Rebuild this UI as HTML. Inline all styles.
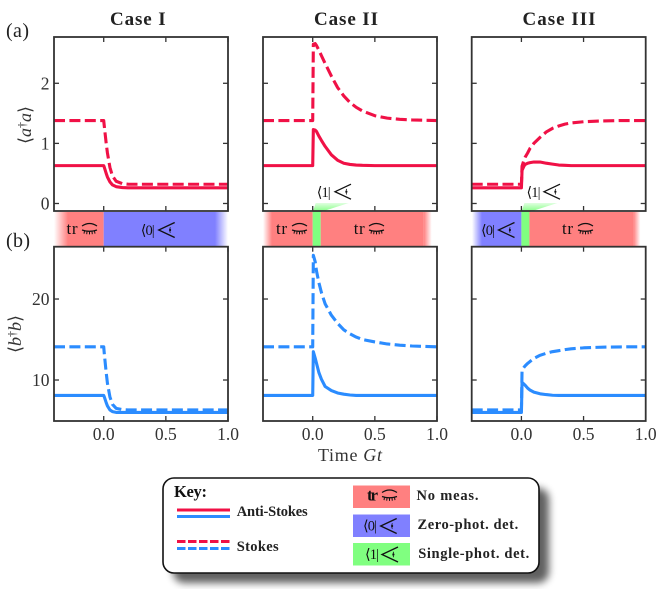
<!DOCTYPE html>
<html>
<head>
<meta charset="utf-8">
<style>
html,body{margin:0;padding:0;background:#fff;}
#stage{position:relative;width:665px;height:589px;overflow:hidden;}
svg{display:block;}
text{font-family:"Liberation Serif","DejaVu Serif",serif;}
</style>
</head>
<body>
<div id="stage">
<svg id="fig" width="665" height="589" viewBox="0 0 665 589" xmlns="http://www.w3.org/2000/svg">
<defs>
<linearGradient id="fadeRedL"><stop offset="0" stop-color="#ff8080" stop-opacity="0"/><stop offset="1" stop-color="#ff8080"/></linearGradient>
<linearGradient id="fadeRedR"><stop offset="0" stop-color="#ff8080"/><stop offset="1" stop-color="#ff8080" stop-opacity="0"/></linearGradient>
<linearGradient id="fadeBlueL"><stop offset="0" stop-color="#8080ff" stop-opacity="0"/><stop offset="1" stop-color="#8080ff"/></linearGradient>
<linearGradient id="fadeBlueR"><stop offset="0" stop-color="#8080ff"/><stop offset="1" stop-color="#8080ff" stop-opacity="0"/></linearGradient>
<linearGradient id="fadeGreenUp" x1="0" y1="1" x2="0" y2="0"><stop offset="0" stop-color="#80ff80"/><stop offset="1" stop-color="#80ff80" stop-opacity="0.25"/></linearGradient>
<filter id="legendBlur" x="-10%" y="-30%" width="120%" height="160%"><feGaussianBlur stdDeviation="4"/></filter>
<g id="closedEye"><path d="M-7.5,-3 Q0,-8 7.5,-3" fill="none" stroke="#111" stroke-width="1.2"/><path d="M-7.5,1 Q0,3.6 7.5,1" fill="none" stroke="#111" stroke-width="1.3"/><path d="M-5,2 L-5.5,4.6 M-2.5,2.6 L-2.8,5.2 M0,2.8 L0,5.4 M2.5,2.6 L2.8,5.2 M5,2 L5.5,4.6" fill="none" stroke="#111" stroke-width="1"/></g>
<g id="openEye"><path d="M8,-7.5 L-8,0 L8,7.5" fill="none" stroke="#111" stroke-width="1.3"/><path d="M3.6,-2.8 Q2.6,0 3.6,2.8" fill="none" stroke="#111" stroke-width="0.8"/><circle cx="3.4" cy="0" r="1.1" fill="#111"/></g>
</defs>
<g id="strips"></g>
<g id="plots"></g>
<g id="labels"></g>
<g id="legend"></g>
</svg>
</div>
<script>
const times = [-0.4, 0, 0.005, 0.02, 0.03, 0.05, 0.07, 0.1, 0.15, 0.2, 0.25, 0.3, 0.35, 0.4, 0.5, 0.6, 0.7, 0.8, 0.9, 1.0];
const case1PhotonAntiStokes = [0.63,0.63,0.60,0.50,0.44,0.36,0.31,0.28,0.265,0.26,0.26,0.26,0.26,0.26,0.26,0.26,0.26,0.26,0.26,0.26];
const case1PhotonStokes = [1.38,1.38,1.28,1.0,0.84,0.6,0.46,0.37,0.33,0.32,0.32,0.32,0.32,0.32,0.32,0.32,0.32,0.32,0.32,0.32];
const case2PhotonAntiStokes = [0.63,0.63,1.23,1.22,1.2,1.12,1.05,0.95,0.81,0.72,0.67,0.65,0.64,0.635,0.63,0.63,0.63,0.63,0.63,0.63];
const case2PhotonStokes = [1.38,1.38,2.65,2.66,2.63,2.55,2.46,2.33,2.12,1.93,1.79,1.68,1.6,1.54,1.46,1.42,1.40,1.39,1.385,1.38];
const case3PhotonAntiStokes = [0.26,0.26,0.55,0.62,0.65,0.67,0.68,0.69,0.69,0.67,0.655,0.64,0.635,0.63,0.63,0.63,0.63,0.63,0.63,0.63];
const case3PhotonStokes = [0.32,0.32,0.62,0.72,0.77,0.84,0.92,1.0,1.1,1.19,1.25,1.29,1.32,1.34,1.36,1.37,1.375,1.38,1.38,1.38];
const case1PhononAntiStokes = [8.1,8.1,7.9,7.2,6.8,6.3,6.1,6.0,6.0,6.0,6.0,6.0,6.0,6.0,6.0,6.0,6.0,6.0,6.0,6.0];
const case1PhononStokes = [14.1,14.1,13.2,10.9,9.6,7.9,7.0,6.5,6.35,6.3,6.3,6.3,6.3,6.3,6.3,6.3,6.3,6.3,6.3,6.3];
const case2PhononAntiStokes = [8.1,8.1,13.5,12.7,12.1,10.9,10.1,9.2,8.7,8.4,8.25,8.15,8.1,8.1,8.1,8.1,8.1,8.1,8.1,8.1];
const case2PhononStokes = [14.1,14.1,25.4,24.6,23.5,22,20.8,19.4,18.0,17,16.2,15.7,15.3,15.0,14.7,14.45,14.3,14.2,14.15,14.1];
const case3PhononAntiStokes = [6,6,9.7,9.5,9.35,9.0,8.75,8.5,8.3,8.2,8.12,8.1,8.1,8.1,8.1,8.1,8.1,8.1,8.1,8.1];
const case3PhononStokes = [6.3,6.3,11.2,11.55,11.75,12.05,12.3,12.65,13.05,13.3,13.5,13.62,13.75,13.85,13.97,14.03,14.07,14.09,14.1,14.1];
const xTicks = [0, 0.5, 1];
const xTickLabels = ["0.0", "0.5", "1.0"];
const photonTicks = [0, 1, 2];
const photonTickLabels = ["0", "1", "2"];
const phononTicks = [10, 20];
const phononTickLabels = ["10", "20"];
const caseTitles = ["Case I", "Case II", "Case III"];

const NS = "http://www.w3.org/2000/svg";
const RED = "#f01146";
const BLUE = "#2b8cff";
const INK = "#333333";
const columnLeft = [54, 263, 471.7];
const columnWidth = 174;
const titleCenter = [137.8, 346, 559];
const titleWidth = [55.7, 64, 73];
const photonRow = {top: 37, bottom: 211, min: -0.125, max: 2.77};
const phononRow = {top: 246.7, bottom: 421, min: 4.94, max: 26.46};

function xScale(col, t) { return columnLeft[col] + (t + 0.4) / 1.4 * columnWidth; }
function yScale(row, v) { return row.bottom - (v - row.min) / (row.max - row.min) * (row.bottom - row.top); }
function mk(tag, attrs, parent) {
  const el = document.createElementNS(NS, tag);
  for (const k in attrs) el.setAttribute(k, attrs[k]);
  parent.appendChild(el);
  return el;
}
function addText(parent, str, x, y, size, anchor, weight, fill) {
  const el = mk("text", {x: x, y: y, "font-size": size, "text-anchor": anchor || "start", "font-weight": weight || "normal", fill: fill || INK}, parent);
  el.textContent = str;
  return el;
}
const plots = document.getElementById("plots");
const labels = document.getElementById("labels");
const strips = document.getElementById("strips");
const legend = document.getElementById("legend");

function drawSeries(col, row, rowName, values, color, dashed, clipId) {
  const pts = values.map(function (v, i) { return xScale(col, times[i]).toFixed(2) + "," + yScale(row, v).toFixed(2); }).join(" ");
  const line = mk("polyline", {points: pts, fill: "none", stroke: color, "stroke-width": 3.1, "stroke-linejoin": "round", "clip-path": "url(#" + clipId + ")"}, plots);
  if (dashed) line.setAttribute("stroke-dasharray", "11 4.4");
  
  
}
function drawPanel(col, row, rowName, antiStokes, stokes, color, yTicks, yTickLabels) {
  const left = columnLeft[col], right = left + columnWidth;
  const clipId = "clip" + col + rowName;
  const defs = mk("clipPath", {id: clipId}, plots);
  mk("rect", {x: left, y: row.top, width: columnWidth, height: row.bottom - row.top}, defs);
  drawSeries(col, row, rowName, antiStokes, color, false, clipId);
  drawSeries(col, row, rowName, stokes, color, true, clipId);
  const frame = mk("rect", {x: left, y: row.top, width: columnWidth, height: row.bottom - row.top, fill: "none", stroke: INK, "stroke-width": 1.8}, plots);
  
  
  xTicks.forEach(function (t, i) {
    const x = xScale(col, t);
    mk("line", {x1: x, x2: x, y1: row.top, y2: row.top + 5, stroke: INK, "stroke-width": 1.3}, plots);
    mk("line", {x1: x, x2: x, y1: row.bottom, y2: row.bottom - 5, stroke: INK, "stroke-width": 1.3}, plots);
    if (row === phononRow) {
      const tl = addText(labels, xTickLabels[i], x, 440, 17.5, "middle");
      
      
    }
  });
  yTicks.forEach(function (v, i) {
    const y = yScale(row, v);
    mk("line", {x1: left, x2: left + 5, y1: y, y2: y, stroke: INK, "stroke-width": 1.3}, plots);
    mk("line", {x1: right, x2: right - 5, y1: y, y2: y, stroke: INK, "stroke-width": 1.3}, plots);
    if (col === 0) {
      const tl = addText(labels, yTickLabels[i], left - 4.5, y + 6, 17.5, "end");
      
      
    }
  });
}
drawPanel(0, photonRow, "photon", case1PhotonAntiStokes, case1PhotonStokes, RED, photonTicks, photonTickLabels);
drawPanel(1, photonRow, "photon", case2PhotonAntiStokes, case2PhotonStokes, RED, photonTicks, photonTickLabels);
drawPanel(2, photonRow, "photon", case3PhotonAntiStokes, case3PhotonStokes, RED, photonTicks, photonTickLabels);
drawPanel(0, phononRow, "phonon", case1PhononAntiStokes, case1PhononStokes, BLUE, phononTicks, phononTickLabels);
drawPanel(1, phononRow, "phonon", case2PhononAntiStokes, case2PhononStokes, BLUE, phononTicks, phononTickLabels);
drawPanel(2, phononRow, "phonon", case3PhononAntiStokes, case3PhononStokes, BLUE, phononTicks, phononTickLabels);

caseTitles.forEach(function (title, i) {
  const el = addText(labels, title, titleCenter[i], 25, 19, "middle", "bold", "#222");
  el.setAttribute("textLength", titleWidth[i]);
  
  
});

/* measurement strip */
function stripRect(x, w, fill, name) {
  const r = mk("rect", {x: x, y: 212, width: w, height: 34, fill: fill}, strips);
  
  
}
function funnel(x0, name) {
  const p = mk("polygon", {points: x0 + ",212 " + (x0 + 3) + ",203 " + (x0 + 36) + ",203 " + (x0 + 8) + ",212", fill: "url(#fadeGreenUp)"}, strips);
  
  
}
stripRect(54, 14, "url(#fadeRedL)", "no-measurement-fade");
stripRect(68, 35.7, "#ff8080", "no-measurement-band");
stripRect(103.7, 111.3, "#8080ff", "zero-photon-band");
stripRect(215, 13, "url(#fadeBlueR)", "zero-photon-fade");

stripRect(263, 9, "url(#fadeRedL)", "no-measurement-fade");
stripRect(272, 40.7, "#ff8080", "no-measurement-band");
stripRect(312.7, 8, "#80ff80", "single-photon-band");
stripRect(320.7, 103, "#ff8080", "no-measurement-band");
stripRect(423.7, 8, "url(#fadeRedR)", "no-measurement-fade");
funnel(312.7, "single-photon-pointer");

stripRect(472, 10, "url(#fadeBlueL)", "zero-photon-fade");
stripRect(482, 39.4, "#8080ff", "zero-photon-band");
stripRect(521.4, 8, "#80ff80", "single-photon-band");
stripRect(529.4, 104, "#ff8080", "no-measurement-band");
stripRect(633.4, 7, "url(#fadeRedR)", "no-measurement-fade");
funnel(521.4, "single-photon-pointer");

function useIcon(parent, id, x, y) {
  const u = mk("use", {href: "#" + id, transform: "translate(" + x + "," + y + ")"}, parent);
  
  
}
function trLabel(parent, x, y, weight) {
  const t = addText(parent, "tr", x, y, 17, "start", weight || "normal", "#111");
  t.setAttribute("textLength", 11);
  
  
}
function braLabel(parent, str, x, y) {
  const t = addText(parent, str, x, y, 14.5, "start", "normal", "#111");
  t.setAttribute("textLength", 14);
  
  
}
trLabel(labels, 66.5, 234); useIcon(labels, "closedEye", 89.5, 229);
braLabel(labels, "\u27E80|", 140.7, 235); useIcon(labels, "openEye", 166.7, 230);
trLabel(labels, 276, 234); useIcon(labels, "closedEye", 299.5, 229);
trLabel(labels, 353.7, 234); useIcon(labels, "closedEye", 376.5, 229);
braLabel(labels, "\u27E81|", 316.7, 197); useIcon(labels, "openEye", 343, 191.7);
braLabel(labels, "\u27E80|", 481, 235); useIcon(labels, "openEye", 506.5, 230);
trLabel(labels, 562, 234); useIcon(labels, "closedEye", 585.5, 229);
braLabel(labels, "\u27E81|", 526.5, 197); useIcon(labels, "openEye", 552, 191.7);

/* axis and row labels */
const pa = addText(labels, "(a)", 6, 37, 20, "start", "normal", "#222");
pa.setAttribute("textLength", 23);


const pb = addText(labels, "(b)", 6, 247, 20, "start", "normal", "#222");
pb.setAttribute("textLength", 24);



function expectationLabel(letter, bx, cy, name) {
  const el = mk("text", {"font-size": 18, "text-anchor": "middle", fill: INK, transform: "translate(" + bx + "," + cy + ") rotate(-90)"}, labels);
  
  
  const open = mk("tspan", {}, el); open.textContent = "\u27E8";
  const l1 = mk("tspan", {"font-style": "italic"}, el); l1.textContent = letter;
  const dag = mk("tspan", {"font-size": 12, dy: -5}, el); dag.textContent = "\u2020";
  const l2 = mk("tspan", {"font-style": "italic", dy: 5}, el); l2.textContent = letter;
  const close = mk("tspan", {}, el); close.textContent = "\u27E9";
}
expectationLabel("a", 31, 125, "y-axis-title-photon");
expectationLabel("b", 21, 334, "y-axis-title-phonon");

const xl = addText(labels, "Time ", 318, 461, 18);
xl.setAttribute("textLength", 64);
const xlv = mk("tspan", {"font-style": "italic"}, xl);
xlv.textContent = "Gt";



/* legend */
const shadow = mk("rect", {x: 173, y: 488, width: 376, height: 95, rx: 11, fill: "#000", opacity: 0.62, filter: "url(#legendBlur)"}, legend);


const box = mk("rect", {x: 163, y: 478, width: 376, height: 95, rx: 11, fill: "#fff", stroke: "#111", "stroke-width": 1.6}, legend);


const keyTitle = addText(legend, "Key:", 174, 497, 16.5, "start", "bold", "#111");
keyTitle.setAttribute("textLength", 33);


function legendLine(y, color, dashed, name) {
  const l = mk("line", {x1: 177, x2: 230, y1: y, y2: y, stroke: color, "stroke-width": 3}, legend);
  if (dashed) l.setAttribute("stroke-dasharray", "8.5 2.5");
  
  
}
legendLine(510, RED, false, "legend-anti-stokes-red");
legendLine(516.5, BLUE, false, "legend-anti-stokes-blue");
legendLine(541.5, RED, true, "legend-stokes-red");
legendLine(548.5, BLUE, true, "legend-stokes-blue");
function legendLabel(str, x, y, w) {
  const t = addText(legend, str, x, y, 14.5, "start", "bold", "#222");
  t.setAttribute("textLength", w);
  
  
}
legendLabel("Anti-Stokes", 236.7, 516, 71);
legendLabel("Stokes", 236.7, 551, 42);
legendLabel("No meas.", 416.5, 500, 62);
legendLabel("Zero-phot. det.", 417.5, 529, 100.7);
legendLabel("Single-phot. det.", 418.2, 558, 111);
function swatch(y, fill, name) {
  const r = mk("rect", {x: 353, y: y, width: 57, height: 22.5, fill: fill}, legend);
  
  
}
swatch(485.5, "#ff8080", "legend-swatch-no-measurement");
swatch(514.5, "#8080ff", "legend-swatch-zero-photon");
swatch(543, "#80ff80", "legend-swatch-single-photon");
trLabel(legend, 367, 500.7, "bold"); useIcon(legend, "closedEye", 389.5, 495.5);
braLabel(legend, "\u27E80|", 363, 530.5); useIcon(legend, "openEye", 388.7, 526);
braLabel(legend, "\u27E81|", 365, 559); useIcon(legend, "openEye", 390, 554.5);
</script>
</body>
</html>
